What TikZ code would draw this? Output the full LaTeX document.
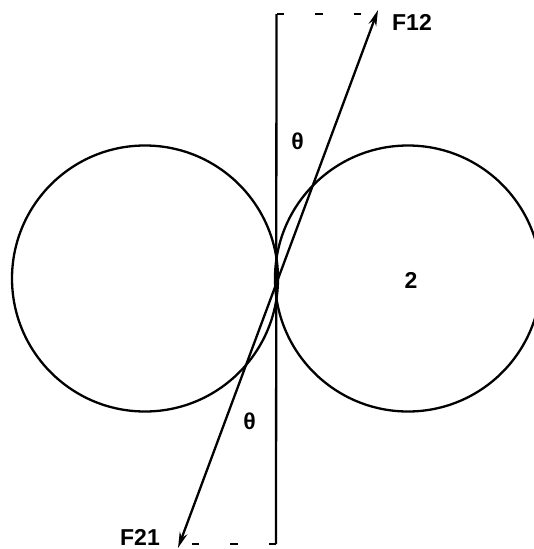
\documentclass[tikz,border=0pt]{standalone}
\usepackage{fontspec}
\setmainfont{Liberation Sans}
\usetikzlibrary{arrows.meta}
\begin{document}
\begin{tikzpicture}[x=1pt,y=-1pt,
  ball/.style={circle,draw,line width=2.3pt,minimum size=266pt,inner sep=0pt},
  lbl/.style={font=\fontsize{23}{23}\selectfont\bfseries,inner sep=0pt},
  guide/.style={line width=2.3pt},
  dashguide/.style={line width=2.3pt,dash pattern=on 7.5pt off 31pt},
  force/.style={line width=2.3pt,-{Stealth[length=16pt,width=8pt]}}]
\useasboundingbox (0,0) rectangle (534,549);
\clip (0,0) rectangle (534,549);
\node[ball] (b1) at (145,278.5) {};
\node[ball] (b2) at (408,278.5) {};
\node[lbl] (two) at (411,280.5) {2};
\coordinate (top) at (276.5,14);
\coordinate (bot) at (276,544);
\coordinate (topend) at (372,14);
\coordinate (botend) at (185,544);
\coordinate (ct) at (278,279);
\coordinate (t12) at (378,10);
\coordinate (t21) at (178,548);
\draw[guide] (top) -- (bot);
\draw[dashguide] (top) -- (topend);
\draw[dashguide] (bot) -- (botend);
\draw[force] (ct) -- (t12);
\draw[force] (ct) -- (t21);
\node[lbl] (f12) at (412,22) {F12};
\node[lbl] (f21) at (140,537) {F21};
\node[lbl] (th1) at (297.5,141) {θ};
\node[lbl] (th2) at (249.5,421.5) {θ};
\end{tikzpicture}
\end{document}
